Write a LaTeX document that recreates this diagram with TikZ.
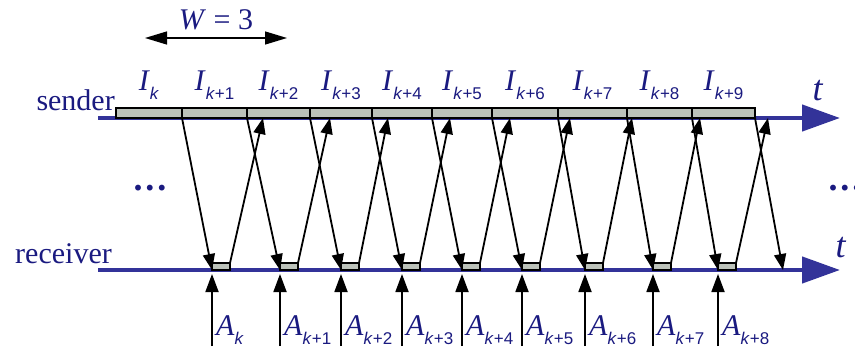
\documentclass[tikz,border=0pt]{standalone}
\usepackage{fontspec}
\setmainfont{Liberation Serif}
\newfontfamily\subfont{Liberation Sans}
\usetikzlibrary{arrows.meta}
\definecolor{ink}{RGB}{26,26,128}
\definecolor{axis}{RGB}{51,51,153}
\definecolor{slot}{RGB}{188,194,186}
\newcommand{\sub}[1]{\raisebox{-9pt}{\fontsize{17}{17}\subfont\textit{k}#1}}

\begin{document}
\begin{tikzpicture}[x=1pt,y=-1pt,font=\fontsize{30}{30}\selectfont,txt/.style={text=ink,inner sep=0pt},axisline/.style={draw=axis,line width=4.5pt,-{Triangle[length=38pt,width=26pt]}},sbox/.style={draw,line width=1.5pt,fill=slot,inner sep=0pt,outer sep=0pt,minimum height=10pt},rbox/.style={sbox,minimum height=7pt,minimum width=18pt},msg/.style={line width=1.8pt,-{Triangle[length=16pt,width=12pt]}},ack/.style={line width=1.8pt,shorten >=4pt,-{Triangle[length=18pt,width=13pt]}}]
\useasboundingbox (0,0) rectangle (855,348);
% window
\coordinate (wL) at (145,38);\coordinate (wR) at (287,38);
\draw[line width=1.3pt,{Triangle[length=22pt,width=13pt]}-{Triangle[length=22pt,width=13pt]}] (wL) -- (wR);
\node[txt,anchor=base] (win) at (216,30){\textit{W} = 3};
% time lines
\coordinate (sL) at (98,118);\coordinate (sR) at (840,118);\coordinate (rL) at (98,270);\coordinate (rR) at (840,270);
\draw[axisline] (sL) -- (sR);\draw[axisline] (rL) -- (rR);
\node[txt,anchor=base east] (snd) at (115,110){sender};\node[txt,anchor=base east] (rcv) at (112,263){receiver};
\node[txt,anchor=base,font=\fontsize{36}{36}\selectfont] (tS) at (818,100){\textit{t}};\node[txt,anchor=base,font=\fontsize{36}{36}\selectfont] (tR) at (841,257){\textit{t}};
\node[txt,font=\fontsize{36}{36}\selectfont\bfseries] (dotsL) at (150,188){.\kern3pt.\kern3pt.};\node[txt,font=\fontsize{36}{36}\selectfont\bfseries] (dotsR) at (845,188){.\kern3pt.\kern3pt.};
% frames on the sender line
\foreach \a/\b [count=\i from 0] in {116/182,182/247,247/310,310/372,372/432,432/492,492/558,558/627,627/692,692/755}{
  \node[sbox,minimum width={(\b-\a)*1pt}] (sb\i) at ({(\a+\b)/2},113){};
  \node[txt,anchor=base] (I\i) at ({(\a+\b)/2},90){\textit{I}\sub{\ifnum\i>0 +\i\fi}};}
% acks on the receiver line
\foreach \r/\u [count=\i from 0] in {212/263,280/330,341/388,402/450,462/510,522/570,585/632,653/700,718/768}{
  \node[rbox] (rb\i) at (\r+9,266.5){};
  \coordinate (u\i) at (\u,118);\coordinate (a\i) at (\r,346);
  \draw[ack] (a\i) -- (rb\i.south west);
  \node[txt,anchor=base west] (A\i) at (\r+4,335){\textit{A}\sub{\ifnum\i>0 +\i\fi}};}
\coordinate (r9) at (783,270);
\foreach \i in {0,...,8}{\draw[msg] (sb\i.south east) -- (rb\i.south west);\draw[msg] (rb\i.north east) -- (u\i);}
\draw[msg] (sb9.south east) -- (r9);
\end{tikzpicture}
\end{document}
